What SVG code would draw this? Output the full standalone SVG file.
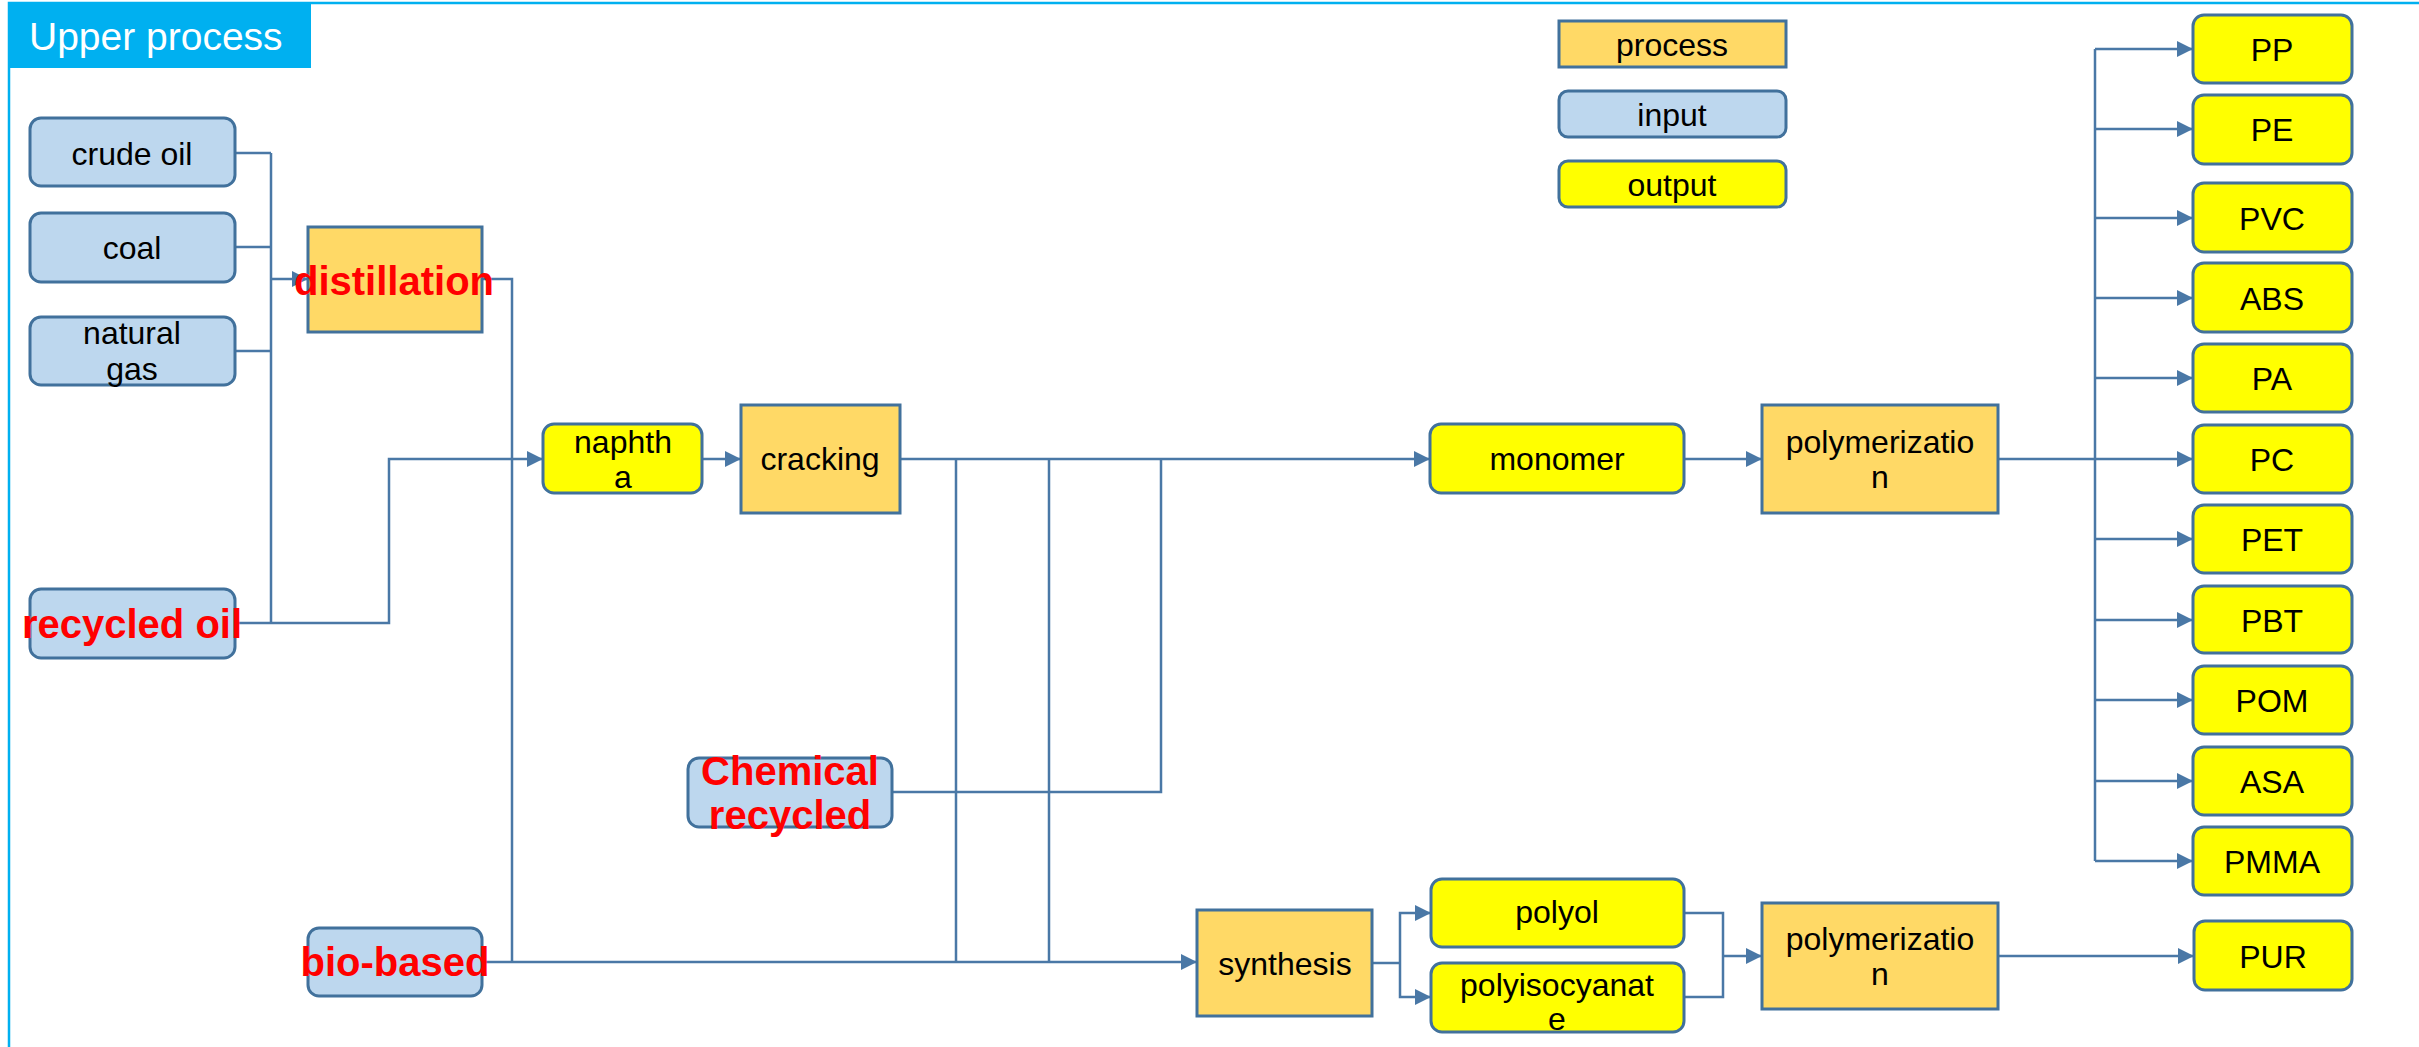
<svg xmlns="http://www.w3.org/2000/svg" width="2419" height="1047" viewBox="0 0 2419 1047">
<style>
.inp{fill:#BDD7EE;stroke:#41719C;stroke-width:3}
.prc{fill:#FFD966;stroke:#41719C;stroke-width:3}
.out{fill:#FFFF00;stroke:#41719C;stroke-width:3}
.t{font-family:"Liberation Sans",Arial,sans-serif;font-size:32px;fill:#000;text-anchor:middle}
.r{font-family:"Liberation Sans",Arial,sans-serif;font-size:40px;font-weight:bold;fill:#FF0000;text-anchor:middle}
.c{fill:none;stroke:#4A78A6;stroke-width:2.5}
.a{marker-end:url(#ah)}
</style>
<defs>
<marker id="ah" markerUnits="userSpaceOnUse" markerWidth="16" markerHeight="16" refX="16" refY="8" orient="auto">
<path d="M0,0 L16,8 L0,16 z" fill="#4A78A6"/>
</marker>
</defs>
<rect x="0" y="0" width="2419" height="1047" fill="#fff"/>
<g id="frame">
<rect x="9" y="3" width="2500" height="1100" fill="none" stroke="#00B0F0" stroke-width="2.5"/>
<rect x="8" y="4" width="303" height="64" fill="#00B0F0"/>
<text x="29" y="50" font-family="'Liberation Sans',Arial,sans-serif" font-size="39" fill="#fff">Upper process</text>
</g>
<g id="connectors">
<path class="c" d="M235,153 H271 M235,247 H271 M235,351 H271 M271,153 V623"/>
<path class="c a" d="M271,279 H308"/>
<path class="c a" d="M235,623 H389 V459 H543"/>
<path class="c" d="M482,279 H512 V962"/>
<path class="c a" d="M482,962 H1197"/>
<path class="c a" d="M702,459 H741"/>
<path class="c a" d="M900,459 H1430"/>
<path class="c" d="M956,459 V962 M1049,459 V962"/>
<path class="c" d="M892,792 H1161 V459"/>
<path class="c a" d="M1684,459 H1762"/>
<path class="c" d="M1998,459 H2095 M2095,49 V861"/>
<path class="c a" d="M2095,49 H2193"/>
<path class="c a" d="M2095,129 H2193"/>
<path class="c a" d="M2095,218 H2193"/>
<path class="c a" d="M2095,298 H2193"/>
<path class="c a" d="M2095,378 H2193"/>
<path class="c a" d="M2095,459 H2193"/>
<path class="c a" d="M2095,539 H2193"/>
<path class="c a" d="M2095,620 H2193"/>
<path class="c a" d="M2095,700 H2193"/>
<path class="c a" d="M2095,781 H2193"/>
<path class="c a" d="M2095,861 H2193"/>
<path class="c" d="M1372,963 H1400"/>
<path class="c a" d="M1400,963 V913 H1431"/>
<path class="c a" d="M1400,963 V997 H1431"/>
<path class="c" d="M1684,913 H1723 V997 H1684"/>
<path class="c a" d="M1723,956 H1762"/>
<path class="c a" d="M1998,956 H2194"/>
</g>
<g id="legend-process"><rect class="prc" x="1559" y="21" width="227" height="46"/><text class="t" x="1672" y="56">process</text></g>
<g id="legend-input"><rect class="inp" x="1559" y="91" width="227" height="46" rx="9"/><text class="t" x="1672" y="126">input</text></g>
<g id="legend-output"><rect class="out" x="1559" y="161" width="227" height="46" rx="9"/><text class="t" x="1672" y="196">output</text></g>
<g id="crude-oil"><rect class="inp" x="30" y="118" width="205" height="68" rx="11"/><text class="t" x="132" y="165">crude oil</text></g>
<g id="coal"><rect class="inp" x="30" y="213" width="205" height="69" rx="11"/><text class="t" x="132" y="259">coal</text></g>
<g id="natural-gas"><rect class="inp" x="30" y="317" width="205" height="68" rx="11"/><text class="t" x="132" y="344">natural<tspan x="132" y="380">gas</tspan></text></g>
<g id="recycled-oil"><rect class="inp" x="30" y="589" width="205" height="69" rx="11"/><text class="r" x="132" y="638">recycled oil</text></g>
<g id="distillation"><rect class="prc" x="308" y="227" width="174" height="105"/><text class="r" x="394" y="295">distillation</text></g>
<g id="naphtha"><rect class="out" x="543" y="424" width="159" height="69" rx="11"/><text class="t" x="623" y="453">naphth<tspan x="623" y="488">a</tspan></text></g>
<g id="cracking"><rect class="prc" x="741" y="405" width="159" height="108"/><text class="t" x="820" y="470">cracking</text></g>
<g id="chemical-recycled"><rect class="inp" x="688" y="758" width="204" height="69" rx="11"/><text class="r" x="790" y="785">Chemical<tspan x="790" y="829">recycled</tspan></text></g>
<g id="bio-based"><rect class="inp" x="308" y="928" width="174" height="68" rx="11"/><text class="r" x="395" y="976">bio-based</text></g>
<g id="monomer"><rect class="out" x="1430" y="424" width="254" height="69" rx="11"/><text class="t" x="1557" y="470">monomer</text></g>
<g id="polymerization-1"><rect class="prc" x="1762" y="405" width="236" height="108"/><text class="t" x="1880" y="453">polymerizatio<tspan x="1880" y="488">n</tspan></text></g>
<g id="synthesis"><rect class="prc" x="1197" y="910" width="175" height="106"/><text class="t" x="1285" y="975">synthesis</text></g>
<g id="polyol"><rect class="out" x="1431" y="879" width="253" height="68" rx="11"/><text class="t" x="1557" y="923">polyol</text></g>
<g id="polyisocyanate"><rect class="out" x="1431" y="963" width="253" height="69" rx="11"/><text class="t" x="1557" y="996">polyisocyanat<tspan x="1557" y="1030">e</tspan></text></g>
<g id="polymerization-2"><rect class="prc" x="1762" y="903" width="236" height="106"/><text class="t" x="1880" y="950">polymerizatio<tspan x="1880" y="985">n</tspan></text></g>
<g id="PUR"><rect class="out" x="2194" y="921" width="158" height="69" rx="11"/><text class="t" x="2273" y="968">PUR</text></g>
<g id="PP"><rect class="out" x="2193" y="15" width="159" height="68" rx="11"/><text class="t" x="2272" y="61">PP</text></g>
<g id="PE"><rect class="out" x="2193" y="95" width="159" height="69" rx="11"/><text class="t" x="2272" y="141">PE</text></g>
<g id="PVC"><rect class="out" x="2193" y="183" width="159" height="69" rx="11"/><text class="t" x="2272" y="230">PVC</text></g>
<g id="ABS"><rect class="out" x="2193" y="263" width="159" height="69" rx="11"/><text class="t" x="2272" y="310">ABS</text></g>
<g id="PA"><rect class="out" x="2193" y="344" width="159" height="68" rx="11"/><text class="t" x="2272" y="390">PA</text></g>
<g id="PC"><rect class="out" x="2193" y="425" width="159" height="68" rx="11"/><text class="t" x="2272" y="471">PC</text></g>
<g id="PET"><rect class="out" x="2193" y="505" width="159" height="68" rx="11"/><text class="t" x="2272" y="551">PET</text></g>
<g id="PBT"><rect class="out" x="2193" y="586" width="159" height="67" rx="11"/><text class="t" x="2272" y="632">PBT</text></g>
<g id="POM"><rect class="out" x="2193" y="666" width="159" height="68" rx="11"/><text class="t" x="2272" y="712">POM</text></g>
<g id="ASA"><rect class="out" x="2193" y="747" width="159" height="68" rx="11"/><text class="t" x="2272" y="793">ASA</text></g>
<g id="PMMA"><rect class="out" x="2193" y="827" width="159" height="68" rx="11"/><text class="t" x="2272" y="873">PMMA</text></g>
</svg>
